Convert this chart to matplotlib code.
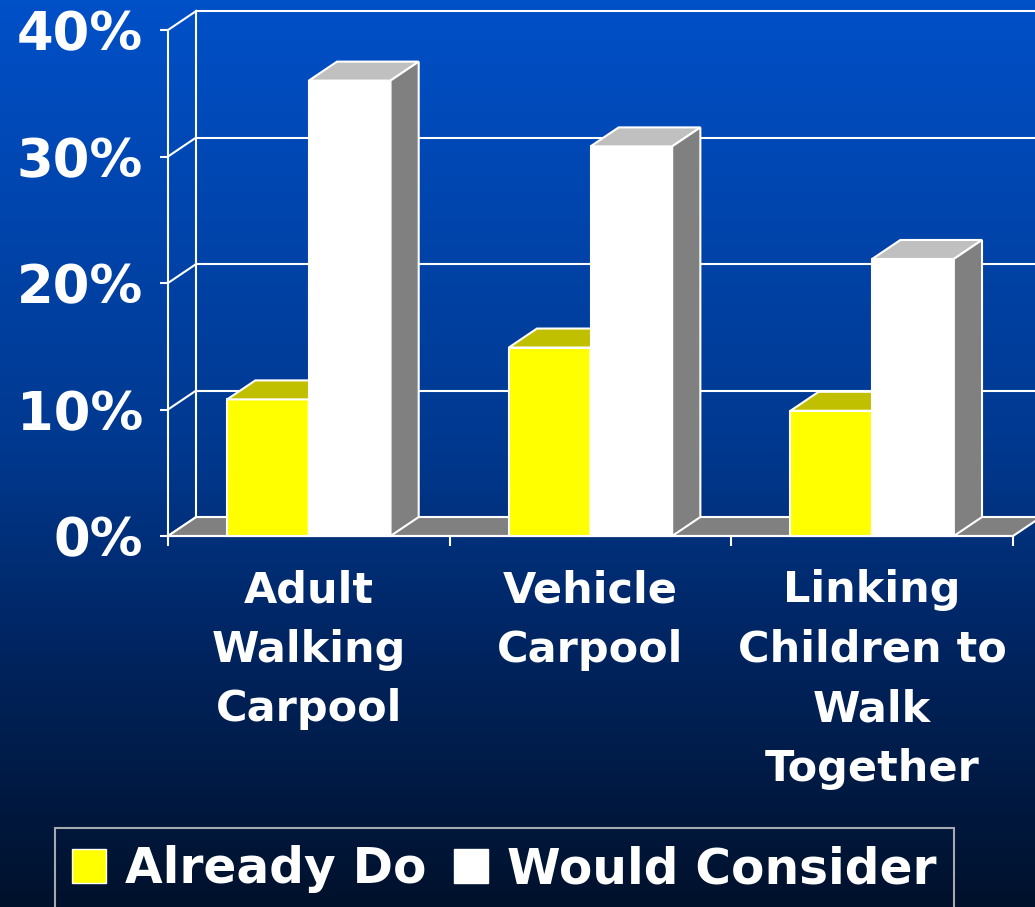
import numpy as np
import matplotlib
matplotlib.use('Agg')
import matplotlib.pyplot as plt
from matplotlib.patches import Polygon, Patch
from matplotlib.colors import LinearSegmentedColormap

# data
categories = ['Adult\nWalking\nCarpool', 'Vehicle\nCarpool', 'Linking\nChildren to\nWalk\nTogether']
already_do = [10.8, 14.9, 9.9]
would_consider = [36.0, 30.8, 21.9]
series_names = ['Already Do', 'Would Consider']
y_ticks = [0, 10, 20, 30, 40]
y_labels = ['0%', '10%', '20%', '30%', '40%']

# style
W, H = 1035, 907
DEPTH_X = 0.1    # 3d depth, in category units
DEPTH_Y = 1.5    # 3d depth, in percent units
BAR_W = 0.29
faces = {
    'Already Do': ('#FFFF00', '#C0C000', '#808000'),
    'Would Consider': ('#FFFFFF', '#C0C0C0', '#808080'),
}

fig = plt.figure(figsize=(W / 100, H / 100), dpi=100)

# background gradient
bg = fig.add_axes([0, 0, 1, 1], zorder=0)
cmap = LinearSegmentedColormap.from_list(
    'bg', [(0, '#0050C8'), (0.5, '#00388E'), (0.72, '#00245F'), (1, '#00112B')])
bg.imshow(np.linspace(0, 1, 256).reshape(-1, 1), cmap=cmap, aspect='auto',
          extent=[0, 1, 0, 1], origin='upper')
bg.set_axis_off()

ax = fig.add_axes([168 / W, 1 - 536 / H, 845 / W, 506 / H], zorder=1)
ax.patch.set_visible(False)
ax.set_xlim(0, 3)
ax.set_ylim(0, 40)
n = len(categories)

line_kw = dict(color='white', lw=1.5, clip_on=False, zorder=1)

# back wall and left wall
ax.plot([DEPTH_X, DEPTH_X], [DEPTH_Y, 40 + DEPTH_Y], **line_kw)
for t in y_ticks:
    ax.plot([DEPTH_X, n + DEPTH_X + 0.2], [t + DEPTH_Y, t + DEPTH_Y], **line_kw)
    ax.plot([0, DEPTH_X], [t, t + DEPTH_Y], **line_kw)

# floor
ax.add_patch(Polygon([(0, 0), (n, 0), (n + DEPTH_X, DEPTH_Y), (DEPTH_X, DEPTH_Y)],
                     closed=True, facecolor='#808080', edgecolor='white', lw=1.5,
                     clip_on=False, zorder=2))


def bar3d(x0, h, cols):
    front, top, side = cols
    x1 = x0 + BAR_W
    kw = dict(closed=True, edgecolor='white', lw=1.5, joinstyle='miter',
              clip_on=False, zorder=3)
    ax.add_patch(Polygon([(x0, 0), (x1, 0), (x1, h), (x0, h)], facecolor=front, **kw))
    ax.add_patch(Polygon([(x0, h), (x1, h), (x1 + DEPTH_X, h + DEPTH_Y),
                          (x0 + DEPTH_X, h + DEPTH_Y)], facecolor=top, **kw))
    ax.add_patch(Polygon([(x1, 0), (x1 + DEPTH_X, DEPTH_Y), (x1 + DEPTH_X, h + DEPTH_Y),
                          (x1, h)], facecolor=side, **kw))


for i in range(n):
    bar3d(i + 0.5 - BAR_W, already_do[i], faces['Already Do'])
    bar3d(i + 0.5, would_consider[i], faces['Would Consider'])

# axes, ticks and labels
for s in ['top', 'right']:
    ax.spines[s].set_visible(False)
for s in ['left', 'bottom']:
    ax.spines[s].set_color('white')
    ax.spines[s].set_linewidth(1.5)
    ax.spines[s].set_zorder(4)

ax.set_yticks(y_ticks, y_labels)
ax.tick_params(axis='y', direction='out', length=6, width=1.5, color='white',
               pad=12, labelcolor='white', labelsize=38)
for lbl in ax.get_yticklabels():
    lbl.set_fontweight('bold')

ax.set_xticks(range(n + 1), [''] * (n + 1))
ax.tick_params(axis='x', which='major', direction='out', length=7, width=1.5, color='white')
ax.set_xticks(np.arange(n) + 0.5, categories, minor=True)
ax.tick_params(axis='x', which='minor', length=0, pad=24, labelcolor='white', labelsize=31)
for lbl in ax.get_xticklabels(minor=True):
    lbl.set_fontweight('bold')
    lbl.set_linespacing(1.53)

# legend
handles = [Patch(facecolor=faces[s][0], edgecolor='white', lw=1) for s in series_names]
leg = fig.legend(handles, series_names, loc='upper left', ncol=2,
                 bbox_to_anchor=(55 / W, 1 - 828 / H), borderaxespad=0,
                 prop={'weight': 'bold', 'size': 35}, labelcolor='white',
                 handlelength=0.7, handleheight=0.72, handletextpad=0.4,
                 columnspacing=0.55, borderpad=0.35, fancybox=False, frameon=True)
leg.get_frame().set_facecolor('none')
leg.get_frame().set_edgecolor('#D0D0D0')
leg.get_frame().set_linewidth(1.5)

fig.savefig('out.png', dpi=100)
